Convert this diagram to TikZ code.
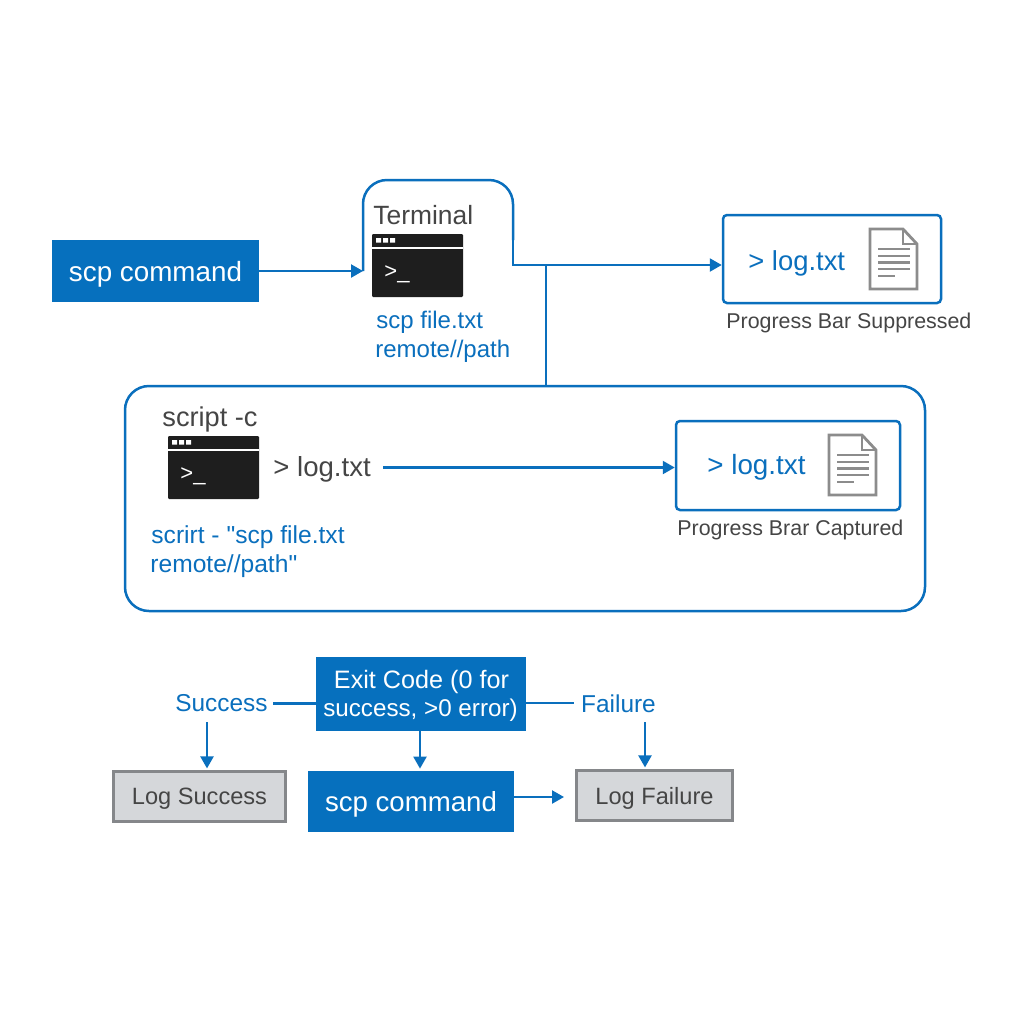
\documentclass[tikz,border=0pt]{standalone}
\usepackage{fontspec}
\setmainfont{Liberation Sans}
\newfontfamily\plainf{Liberation Sans}
\usetikzlibrary{arrows.meta,calc}
\definecolor{bl}{HTML}{0A6FBD}
\definecolor{blfill}{HTML}{0670BE}
\definecolor{dk}{HTML}{454545}
\definecolor{gf}{HTML}{D5D7DA}
\definecolor{gb}{HTML}{85878A}
\definecolor{ic}{HTML}{8C8C8C}
\definecolor{tm}{HTML}{1E1E1E}
\newcommand{\fs}[1]{\fontsize{#1}{#1}\selectfont}
\tikzset{
  line/.style={draw=bl,line width=1.15pt},
  arr/.style={line,-{Triangle[length=6pt,width=6.5pt]}},
  frame/.style={draw=bl,line width=1.25pt,rounded corners=2pt,fill=white},
  solid box/.style={fill=blfill,text=white,inner sep=0pt,align=center},
  grey box/.style={fill=gf,draw=gb,line width=1.1pt,text=dk,inner sep=0pt,align=center,text depth=0pt},
  bluetxt/.style={text=bl,inner sep=0pt,align=left},
  darktxt/.style={text=dk,inner sep=0pt,align=left},
  termicon/.pic={
    \fill[tm,rounded corners=0.6pt] (0,0) rectangle (91,63);
    \fill[white] (0,12.5) rectangle (91,14.5);
    \fill[white] (4,4) rectangle (9,8.5) (11,4) rectangle (16,8.5) (18,4) rectangle (23,8.5);
    \node[text=white,inner sep=0pt,font=\fs{11}] (-p) at (25,40) {>\_};
  },
  docicon/.pic={
    \draw[ic,line width=1.4pt,line join=miter,fill=white] (0,0) -- (33,0) -- (47,15) -- (47,60) -- (0,60) -- cycle;
    \draw[ic,line width=1.4pt] (33,0) -- (33,15) -- (47,15);
    \draw[ic,line width=1.4pt] (8,20) -- (40,20) (8,27) -- (40,27) (8,33.5) -- (40,33.5) (8,40) -- (40,40) (8,47) -- (25,47);
  }
}
\begin{document}
\begin{tikzpicture}[x=0.5pt,y=-0.5pt]
\useasboundingbox (0,0) rectangle (1024,1024);
\fill[white] (0,0) rectangle (1024,1024);

% big frame
\node[frame,rounded corners=12pt,minimum width=400pt,minimum height=112.5pt,inner sep=0pt] (big) at (525,498.5) {};

% top row
\node[solid box,minimum width=103.5pt,minimum height=31pt,font=\fs{13.9},text depth=0pt] (cmdA) at (155.5,271) {scp command};
\coordinate (tIn) at (363,271);
\coordinate (tTop) at (438,180);
\coordinate (tOut) at (513,265);
\node[frame,minimum width=109pt,minimum height=44pt,inner sep=0pt] (logA) at (832,259) {};
\coordinate (junction) at (546,265);

\draw[line,line width=1.25pt,rounded corners=12pt] (tIn) |- (tTop) -| (513,240);
\draw[line,line width=1.25pt] (513,235) -- (tOut) -- (junction);
\draw[arr] (junction) -- (junction -| logA.west);
\draw[arr] (cmdA.east |- tIn) -- (tIn);
\draw[line] (junction) -- (junction |- big.north);

\node[darktxt,font=\fs{13.2},anchor=west] (tLabel) at (373,215.5) {Terminal};
\pic (iconA) at (372,234) {termicon};
\node[bluetxt,font=\fs{12},anchor=west] (tCmd1) at (376,322) {scp file.txt};
\node[bluetxt,font=\fs{12},anchor=west] (tCmd2) at (375,351.5) {remote//path};

\node[bluetxt,font=\fs{13.7},anchor=west] (logAtxt) at (748,263) {> log.txt};
\pic (docA) at (870,229) {docicon};
\node[darktxt,font=\fs{10.7},anchor=west] (logAcap) at (726,322.5) {Progress Bar Suppressed};

% inside big frame
\node[darktxt,font=\fs{13.6},anchor=west] (sLabel) at (162,419) {script -c};
\pic (iconB) at (168,436) {termicon};
\node[darktxt,font=\fs{13.8},anchor=west] (sRedir) at (273,469) {> log.txt};
\node[bluetxt,font=\fs{12.3},anchor=west] (sCmd1) at (151,537.5) {\plainf scrirt - "scp file.txt};
\node[bluetxt,font=\fs{12.3},anchor=west] (sCmd2) at (150,566.5) {\plainf remote//path"};
\node[frame,minimum width=112pt,minimum height=44.5pt,inner sep=0pt] (logB) at (788,465.5) {};
\coordinate (rStart) at (383,467.5);
\draw[arr] (rStart) -- (rStart -| logB.west);
\node[bluetxt,font=\fs{13.9},anchor=west] (logBtxt) at (707,467.5) {> log.txt};
\pic (docB) at (829,435) {docicon};
\node[darktxt,font=\fs{10.7},anchor=west] (logBcap) at (677,530) {Progress Brar Captured};

% bottom
\node[solid box,minimum width=105pt,minimum height=37pt] (exit) at (421,694) {};
\node[text=white,inner sep=0pt,font=\fs{12.6}] (exitA) at (421.5,682) {Exit Code (0 for};
\node[text=white,inner sep=0pt,font=\fs{12.1}] (exitB) at (420.5,710) {success, >0 error)};
\node[solid box,minimum width=103pt,minimum height=30.5pt,font=\fs{13.8},text depth=0pt] (cmdB) at (411,801.5) {scp command};
\node[grey box,minimum width=86pt,minimum height=25pt,font=\fs{11.8}] (logS) at (199.5,796.5) {Log Success};
\node[grey box,minimum width=78pt,minimum height=25pt,font=\fs{11.8}] (logF) at (654.5,795.5) {Log Failure};
\node[bluetxt,font=\fs{12.2}] (succ) at (221.5,703.5) {Success};
\node[bluetxt,font=\fs{12.2}] (fail) at (618.5,703.5) {Failure};

\coordinate (sL) at (273,703.5);
\coordinate (fR) at (574,703);
\draw[line] (sL) -- (sL -| exit.west);
\draw[line] (exit.east |- fR) -- (fR);
\coordinate (sA) at (207,722);
\coordinate (fA) at (645,722);
\draw[arr] (sA) -- ($(sA |- logS.north)+(0,-2)$);
\draw[arr] (fA) -- ($(fA |- logF.north)+(0,-2)$);
\coordinate (mA) at (420,731);
\draw[arr] (mA) -- ($(mA |- cmdB.north)+(0,-2)$);
\coordinate (rA) at (514,797);
\draw[arr] (rA) -- ($(rA)+(50,0)$);
\end{tikzpicture}
\end{document}
